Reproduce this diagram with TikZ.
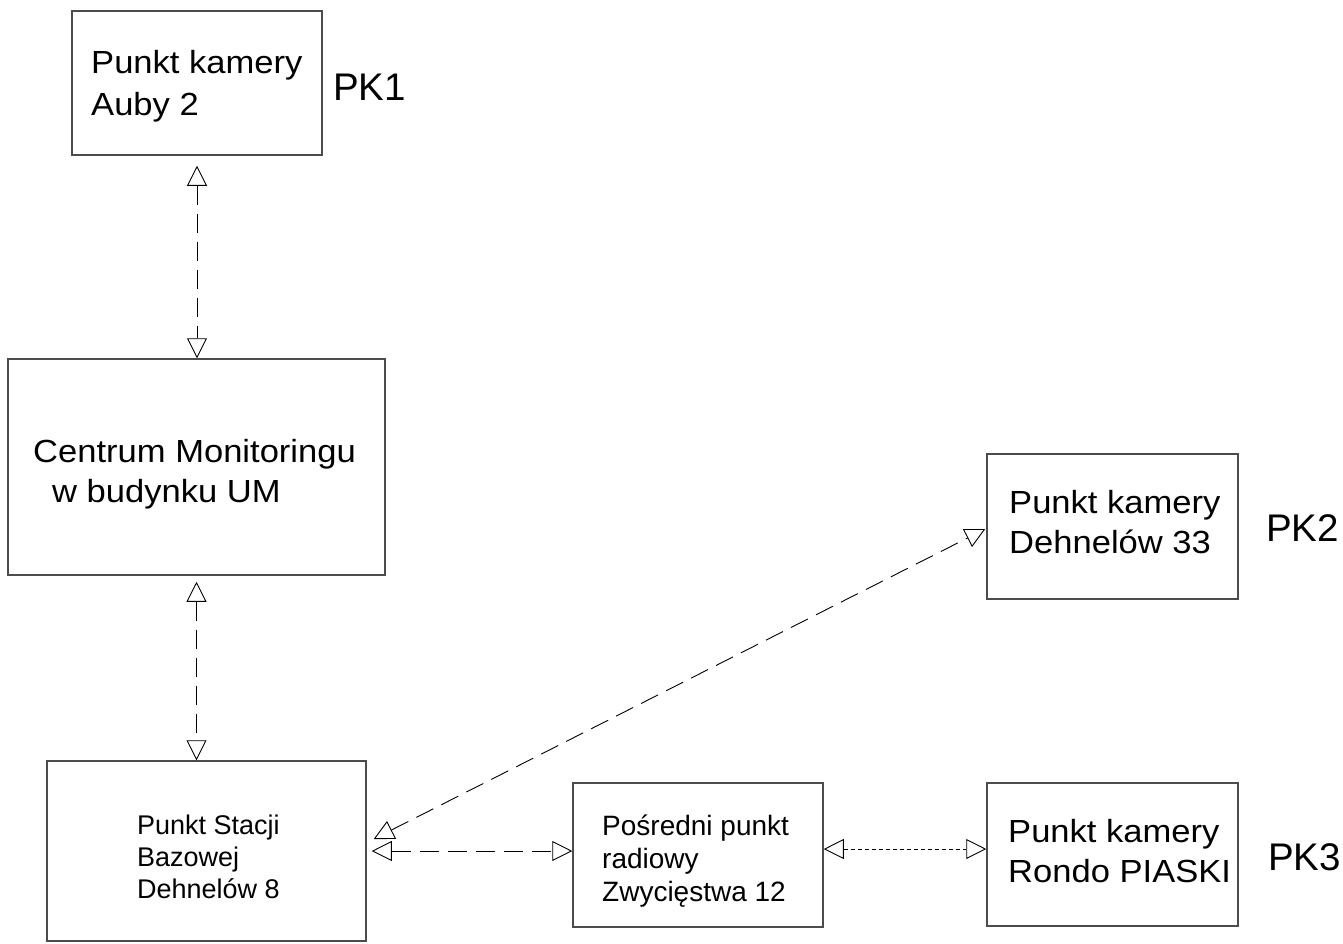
\documentclass[tikz,border=0pt]{standalone}
\usepackage{fontspec}
\setmainfont{Liberation Sans}
\newfontfamily\boxfont[FakeStretch=1.08]{Liberation Sans}
\usetikzlibrary{arrows.meta}
\tikzstyle{station} = [rectangle, draw=black!70, line width=1.5pt, inner sep=0pt]
\tikzstyle{link} = [line width=0.9pt, dash pattern=on 19pt off 9pt, <->, >={Triangle[open,length=20pt,width=20pt]}]
\tikzstyle{finelink} = [link, dash pattern=on 4pt off 3pt]
\tikzstyle{bigtext} = [inner sep=0pt, anchor=base west, align=left, font=\boxfont\fontsize{32}{40}\selectfont]
\tikzstyle{smalltext} = [inner sep=0pt, anchor=base west, align=left, font=\fontsize{27}{32}\selectfont]
\tikzstyle{pklabel} = [inner sep=0pt, anchor=base west, font=\fontsize{38.5}{42}\selectfont]

\begin{document}
\begin{tikzpicture}[x=1pt, y=-1pt]
\useasboundingbox (0,0) rectangle (1343,943);
% boxes
\node (pkone) [station, minimum width=250pt, minimum height=144pt] at (197,83) {};
\node (centrum) [station, minimum width=377pt, minimum height=216pt] at (196.5,467) {};
\node (stacja) [station, minimum width=319pt, minimum height=180pt] at (206.5,851) {};
\node (posredni) [station, minimum width=250pt, minimum height=144pt] at (698,855) {};
\node (pktwo) [station, minimum width=251pt, minimum height=145pt] at (1112.5,526.5) {};
\node (pkthree) [station, minimum width=251pt, minimum height=143pt] at (1112.5,854.5) {};
% texts (base = last line)
\node (pkonetxt) [bigtext] at (91,115) {Punkt kamery\\[2pt]Auby 2};
\node (centrumtxt) [bigtext] at (33,502) {Centrum Monitoringu\\\hspace*{19pt}w budynku UM};
\node (pktwotxt) [bigtext] at (1009,553) {Punkt kamery\\Dehnelów 33};
\node (pkthreetxt) [bigtext] at (1008,882) {Punkt kamery\\Rondo PIASKI};
\node (stacjatxt) [smalltext] at (137,898) {Punkt Stacji\\Bazowej\\Dehnelów 8};
\node (posrednitxt) [smalltext, font=\fontsize{28}{33}\selectfont] at (602,901) {Pośredni punkt\\radiowy\\Zwycięstwa 12};
\node (pkonelbl) [pklabel] at (333,100) {PK1};
\node (pktwolbl) [pklabel] at (1266,541) {PK2};
\node (pkthreelbl) [pklabel] at (1268,870) {PK3};
% connections
\draw [link, shorten <=10pt] (pkone.south) -- (pkone.south |- centrum.north);
\draw [link, shorten <=6pt] (centrum.south) -- (centrum.south |- stacja.north);
\draw [link] ([xshift=7pt,yshift=12pt]stacja.east) -- ([xshift=-1pt,yshift=-2.5pt]pktwo.west);
\draw [link, shorten <=5pt] (stacja.east) -- (stacja.east -| posredni.west);
\draw [finelink] ([yshift=6pt]posredni.east) -- ([yshift=6pt]posredni.east -| pkthree.west);
\end{tikzpicture}
\end{document}
